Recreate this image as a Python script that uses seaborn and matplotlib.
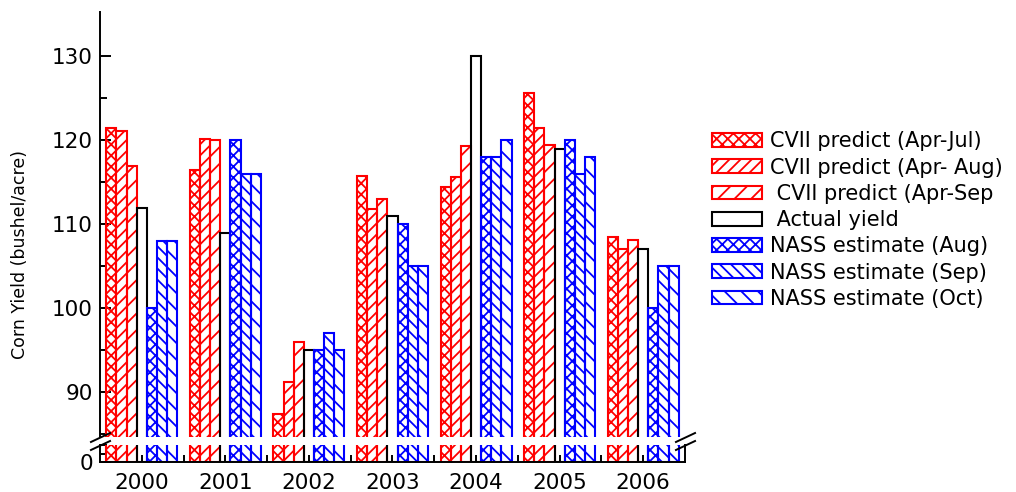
import matplotlib
matplotlib.use('Agg')
import matplotlib.pyplot as plt
from matplotlib.ticker import FixedLocator
import pandas as pd
import seaborn as sns

years = ['2000', '2001', '2002', '2003', '2004', '2005', '2006']
series = ['CVII predict (Apr-Jul)', 'CVII predict (Apr- Aug)', ' CVII predict (Apr-Sep',
          ' Actual yield', 'NASS estimate (Aug)', 'NASS estimate (Sep)', 'NASS estimate (Oct)']

cvii_jul = [121.5, 116.5, 87.4, 115.8, 114.4, 125.7, 108.5]
cvii_aug = [121.1, 120.2, 91.2, 111.8, 115.6, 121.5, 107.1]
cvii_sep = [116.9, 120.0, 96.0, 113.0, 119.3, 119.5, 108.1]
actual = [112, 109, 95, 111, 130, 119, 107]
nass_aug = [100, 120, 95, 110, 118, 120, 100]
nass_sep = [108, 116, 97, 105, 118, 116, 105]
nass_oct = [108, 116, 95, 105, 120, 118, 105]

colors = ['#ff0000', '#ff0000', '#ff0000', '#000000', '#0000ff', '#0000ff', '#0000ff']
hatches = ['xxx', '///', '//', '', 'xxx', '\\\\\\', '\\\\']

values = [cvii_jul, cvii_aug, cvii_sep, actual, nass_aug, nass_sep, nass_oct]
rows = []
for s, vals in zip(series, values):
    for y, v in zip(years, vals):
        rows.append({'year': y, 'series': s, 'yield': v})
df = pd.DataFrame(rows)

sns.set_style('ticks', {'text.color': 'black', 'xtick.color': 'black',
                        'ytick.color': 'black', 'axes.labelcolor': 'black',
                        'axes.edgecolor': 'black'})
plt.rcParams['font.family'] = ['DejaVu Sans']
plt.rcParams['hatch.linewidth'] = 1.3

fig = plt.figure(figsize=(10.16, 4.92), dpi=100)
ax_top = fig.add_axes([0.0984, 0.1118, 0.5758, 0.8638])
ax_bot = fig.add_axes([0.0984, 0.061, 0.5758, 0.0346])

for ax in (ax_top, ax_bot):
    sns.barplot(data=df, x='year', y='yield', hue='series', hue_order=series,
                order=years, palette=colors, fill=False, linewidth=1.5,
                width=0.85, gap=0, errorbar=None, legend=False, ax=ax)
    for cont, h in zip(ax.containers, hatches):
        for p in cont.patches:
            p.set_hatch(h)
    ax.set_xlim(-0.5, 6.5)
    ax.set_xlabel('')
    ax.set_ylabel('')
    for sp in ax.spines.values():
        sp.set_linewidth(1.4)

# top part of the broken axis
ax_top.set_ylim(84.65, 135.3)
ax_top.yaxis.set_major_locator(FixedLocator([90, 100, 110, 120, 130]))
ax_top.yaxis.set_minor_locator(FixedLocator([85, 95, 105, 115, 125]))
ax_top.spines['bottom'].set_visible(False)
ax_top.spines['top'].set_visible(False)
ax_top.spines['right'].set_visible(False)
ax_top.tick_params(axis='x', bottom=False, labelbottom=False)
ax_top.tick_params(axis='y', which='major', direction='in', length=8, width=1.4,
                   labelsize=15.5, pad=5)
ax_top.tick_params(axis='y', which='minor', direction='in', length=5, width=1.4)
ax_top.set_ylabel('Corn Yield (bushel/acre)', fontsize=12.5)
ax_top.yaxis.set_label_coords(-0.121, 0.43)

# bottom part
ax_bot.set_ylim(0, 2.03)
ax_bot.yaxis.set_major_locator(FixedLocator([0]))
ax_bot.yaxis.set_minor_locator(FixedLocator([1, 2]))
ax_bot.spines['top'].set_visible(False)
ax_bot.tick_params(axis='y', which='major', direction='in', length=8, width=1.4,
                   labelsize=15.5, pad=5, right=False)
ax_bot.tick_params(axis='y', which='minor', direction='in', length=5, width=1.4, right=False)
ax_bot.xaxis.set_minor_locator(FixedLocator([0.5, 1.5, 2.5, 3.5, 4.5, 5.5]))
ax_bot.tick_params(axis='x', which='both', direction='in', length=5, width=1.4,
                   labelsize=15.5, pad=8)

# break marks
kw = dict(marker=[(-1, -0.47), (1, 0.47)], markersize=15, linestyle='none',
          color='k', mec='k', mew=1.4, clip_on=False)
ax_top.plot([0, 1], [0, 0], transform=ax_top.transAxes, **kw)
ax_bot.plot([0, 1], [1, 1], transform=ax_bot.transAxes, **kw)

fig.legend(ax_top.containers, series, loc='upper left', bbox_to_anchor=(0.7008, 0.733),
           frameon=False, fontsize=15, handlelength=2.4, handleheight=0.65,
           handletextpad=0.4, labelspacing=0.3, borderpad=0, borderaxespad=0)

fig.savefig('out.png', dpi=100)
